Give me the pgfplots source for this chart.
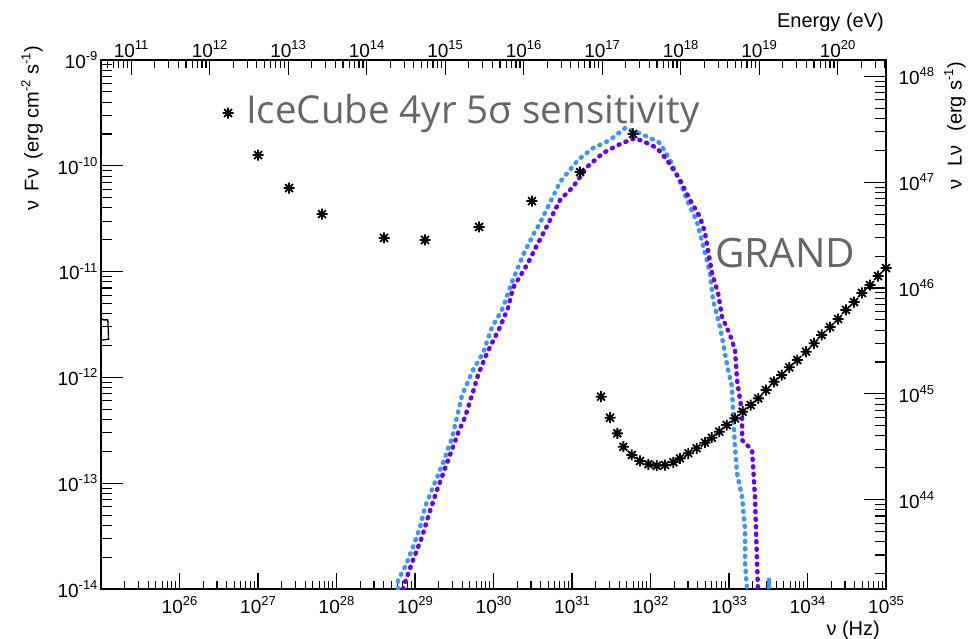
\documentclass[border=0pt]{standalone}
\usepackage{pgfplots}
\pgfplotsset{compat=1.18}
\usepackage{fontspec}
\setmainfont{Liberation Sans}
\newfontfamily\bigfont{Open Sans}
\definecolor{cblue}{RGB}{55,150,255}
\definecolor{cpurple}{RGB}{105,0,245}
\definecolor{tgray}{RGB}{102,102,102}
\newcommand\pw[1]{10\raisebox{0.42em}{\fontsize{13}{13}\selectfont#1}}
\pgfdeclareplotmark{rootstar}{%
 \pgfpathmoveto{\pgfqpoint{-\pgfplotmarksize}{0pt}}\pgfpathlineto{\pgfqpoint{\pgfplotmarksize}{0pt}}%
 \pgfpathmoveto{\pgfqpoint{0pt}{-\pgfplotmarksize}}\pgfpathlineto{\pgfqpoint{0pt}{\pgfplotmarksize}}%
 \pgfpathmoveto{\pgfqpoint{-.707\pgfplotmarksize}{-.707\pgfplotmarksize}}\pgfpathlineto{\pgfqpoint{.707\pgfplotmarksize}{.707\pgfplotmarksize}}%
 \pgfpathmoveto{\pgfqpoint{-.707\pgfplotmarksize}{.707\pgfplotmarksize}}\pgfpathlineto{\pgfqpoint{.707\pgfplotmarksize}{-.707\pgfplotmarksize}}%
 \pgfusepathqstroke}
\pgfplotsset{
 base/.style={scale only axis, width=785pt, height=529pt, at={(0pt,0pt)}, anchor=south west,
   clip mode=individual, axis line style={line width=1.6pt}, tick align=inside,
   every tick/.style={black,line width=1.1pt},
   tick label style={font=\fontsize{19}{19}\selectfont}},
 dotcurve/.style={line width=4.5pt, dash pattern=on 1pt off 6.5pt, line cap=round, line join=round, no marks},
}
\begin{document}
\begin{tikzpicture}
\path[use as bounding box] (-101pt,-50pt) rectangle (867pt,589pt);
% left y ticks
\begin{axis}[base, axis line style={draw=none}, xmin=0, xmax=1, ymode=log, ymin=1e-14, ymax=1e-9,
  xtick=\empty, ytick pos=left, major tick length=22pt, minor tick length=11pt,
  ytick={1e-14,1e-13,1e-12,1e-11,1e-10,1e-9},
  yticklabels={\pw{-14},\pw{-13},\pw{-12},\pw{-11},\pw{-10},\pw{-9}},
  minor ytick={2e-14,3e-14,4e-14,5e-14,6e-14,7e-14,8e-14,9e-14,2e-13,3e-13,4e-13,5e-13,6e-13,7e-13,8e-13,9e-13,2e-12,3e-12,4e-12,5e-12,6e-12,7e-12,8e-12,9e-12,2e-11,3e-11,4e-11,5e-11,6e-11,7e-11,8e-11,9e-11,2e-10,3e-10,4e-10,5e-10,6e-10,7e-10,8e-10,9e-10}]
\end{axis}
% top energy axis
\begin{axis}[base, axis line style={draw=none}, xmode=log, xmin=4.136e10, xmax=4.136e20, ymin=0, ymax=1,
  ytick=\empty, xtick pos=right, xticklabel pos=right, major tick length=15pt, minor tick length=8pt,
  xtick={1e11,1e12,1e13,1e14,1e15,1e16,1e17,1e18,1e19,1e20},
  xticklabels={\pw{11},\pw{12},\pw{13},\pw{14},\pw{15},\pw{16},\pw{17},\pw{18},\pw{19},\pw{20}},
  minor xtick={5e10,6e10,7e10,8e10,9e10,2e11,3e11,4e11,5e11,6e11,7e11,8e11,9e11,2e12,3e12,4e12,5e12,6e12,7e12,8e12,9e12,2e13,3e13,4e13,5e13,6e13,7e13,8e13,9e13,2e14,3e14,4e14,5e14,6e14,7e14,8e14,9e14,2e15,3e15,4e15,5e15,6e15,7e15,8e15,9e15,2e16,3e16,4e16,5e16,6e16,7e16,8e16,9e16,2e17,3e17,4e17,5e17,6e17,7e17,8e17,9e17,2e18,3e18,4e18,5e18,6e18,7e18,8e18,9e18,2e19,3e19,4e19,5e19,6e19,7e19,8e19,9e19,2e20,3e20,4e20},
  xticklabel style={yshift=-1pt}]
\end{axis}
% right luminosity axis
\begin{axis}[base, axis line style={draw=none}, xmin=0, xmax=1, ymode=log, ymin=1.432e43, ymax=1.432e48,
  xtick=\empty, ytick pos=right, yticklabel pos=right, major tick length=22pt, minor tick length=11pt,
  ytick={1e44,1e45,1e46,1e47,1e48},
  yticklabels={\pw{44},\pw{45},\pw{46},\pw{47},\pw{48}},
  minor ytick={2e43,3e43,4e43,5e43,6e43,7e43,8e43,9e43,2e44,3e44,4e44,5e44,6e44,7e44,8e44,9e44,2e45,3e45,4e45,5e45,6e45,7e45,8e45,9e45,2e46,3e46,4e46,5e46,6e46,7e46,8e46,9e46,2e47,3e47,4e47,5e47,6e47,7e47,8e47,9e47},
  yticklabel style={xshift=9pt}]
\end{axis}
% main data axis
\begin{axis}[base, xmode=log, ymode=log, xmin=1e25, xmax=1e35, ymin=1e-14, ymax=1e-9,
  ytick=\empty, xtick pos=left, xticklabel pos=left, major tick length=16pt, minor tick length=8pt,
  xtick={1e25,1e26,1e27,1e28,1e29,1e30,1e31,1e32,1e33,1e34,1e35},
  xticklabels={,\pw{26},\pw{27},\pw{28},\pw{29},\pw{30},\pw{31},\pw{32},\pw{33},\pw{34},\pw{35}},
  minor xtick={2e25,3e25,4e25,5e25,6e25,7e25,8e25,9e25,2e26,3e26,4e26,5e26,6e26,7e26,8e26,9e26,2e27,3e27,4e27,5e27,6e27,7e27,8e27,9e27,2e28,3e28,4e28,5e28,6e28,7e28,8e28,9e28,2e29,3e29,4e29,5e29,6e29,7e29,8e29,9e29,2e30,3e30,4e30,5e30,6e30,7e30,8e30,9e30,2e31,3e31,4e31,5e31,6e31,7e31,8e31,9e31,2e32,3e32,4e32,5e32,6e32,7e32,8e32,9e32,2e33,3e33,4e33,5e33,6e33,7e33,8e33,9e33,2e34,3e34,4e34,5e34,6e34,7e34,8e34,9e34},
  xticklabel style={yshift=-4pt}]
% texts
\node[anchor=west, text=tgray, font=\bigfont\fontsize{38.5}{38.5}\selectfont, inner sep=0pt] at (axis cs:7.0e26,3.155e-10) {IceCube 4yr 5σ sensitivity};
\node[anchor=west, text=tgray, font=\bigfont\fontsize{40.5}{40.5}\selectfont, inner sep=0pt] at (axis cs:6.6e32,1.50e-11) {GRAND};
% small bracket at left edge
\addplot[black, line width=1.3pt, no marks] coordinates {(1e25,3.6e-12) (1.08e25,3.5e-12) (1.22e25,3.5e-12) (1.25e25,2.3e-12) (1e25,2.25e-12)};
% blue dotted curve
\addplot[cblue, dotcurve] coordinates {
(6.07e28,1e-14) (6.07e28,1.216e-14) (7.46e28,1.614e-14) (9.44e28,2.495e-14) (1.159e29,3.855e-14)
(1.340e29,5.957e-14) (1.694e29,9.204e-14) (2.275e29,1.552e-13) (2.958e29,2.673e-13) (3.428e29,4.227e-13)
(3.972e29,6.823e-13) (5.483e29,1.175e-12) (7.345e29,1.702e-12) (9.572e29,2.992e-12) (1.282e30,4.335e-12)
(1.722e30,7.980e-12) (2.377e30,1.435e-11) (3.184e30,2.218e-11) (3.908e30,2.877e-11) (7.031e30,7.03e-11)
(1.191e31,1.135e-10) (1.854e31,1.472e-10) (3.048e31,1.754e-10) (4.732e31,2.275e-10) (6.730e31,2.084e-10)
(9.863e31,1.832e-10) (1.321e32,1.641e-10) (1.770e32,1.135e-10) (2.239e32,7.834e-11) (2.917e32,4.753e-11)
(3.908e32,2.944e-11) (4.667e32,1.782e-11) (5.728e32,9.705e-12) (6.252e32,5.395e-12) (7.674e32,2.992e-12)
(8.395e32,2.113e-12) (9.441e32,1.309e-12) (1.091e33,8.110e-13) (1.125e33,4.613e-13) (1.191e33,2.198e-13)
(1.265e33,1.247e-13) (1.466e33,7.413e-14) (1.600e33,3.614e-14) (1.600e33,1.762e-14) (1.694e33,1e-14)};
\addplot[cblue, line width=4pt, no marks] coordinates {(3.24e33,1.0e-14) (3.24e33,1.27e-14)};
% purple dotted curve
\addplot[cpurple, dotcurve] coordinates {
(7.031e28,1e-14) (7.244e28,1.091e-14) (9.44e28,1.879e-14) (1.227e29,3.097e-14) (1.466e29,4.797e-14)
(1.905e29,8.630e-14) (2.559e29,1.552e-13) (3.532e29,2.979e-13) (4.335e29,4.227e-13) (5.483e29,7.278e-13)
(6.353e29,1.054e-12) (8.260e29,1.702e-12) (1.211e30,2.992e-12) (1.531e30,4.529e-12) (1.770e30,6.998e-12)
(2.307e30,9.705e-12) (2.748e30,1.205e-11) (3.581e30,1.782e-11) (4.529e30,2.472e-11) (7.031e30,4.753e-11)
(1.030e31,6.310e-11) (1.552e31,9.750e-11) (2.483e31,1.321e-10) (3.855e31,1.574e-10) (6.353e31,1.832e-10)
(9.016e31,1.641e-10) (1.211e32,1.472e-10) (1.622e32,1.135e-10) (2.377e32,7.345e-11) (3.184e32,4.753e-11)
(4.276e32,3.281e-11) (4.943e32,2.317e-11) (6.068e32,9.705e-12) (7.244e32,6.281e-12) (8.147e32,3.724e-12)
(1.030e33,2.518e-12) (1.191e33,1.816e-12) (1.265e33,9.441e-13) (1.466e33,4.613e-13) (1.466e33,2.559e-13)
(1.963e33,2.061e-13) (2.143e33,7.413e-14) (2.275e33,1.762e-14) (2.339e33,1e-14)};
% IceCube sensitivity
\addplot[black, only marks, mark=rootstar, mark size=5.5pt, mark options={line width=1.8pt}] coordinates {
(4.15e26,3.155e-10) (1.0e27,1.265e-10) (2.483e27,6.166e-11) (6.531e27,3.499e-11) (4.027e28,2.080e-11)
(1.340e29,1.991e-11) (6.531e29,2.642e-11) (3.090e30,4.645e-11) (1.265e31,8.730e-11) (5.984e31,2.0e-10)};
% GRAND sensitivity
\addplot[black, only marks, mark=rootstar, mark size=5.5pt, mark options={line width=1.8pt}] coordinates {
(2.34e31,6.58e-13) (3.05e31,4.16e-13) (3.78e31,2.96e-13) (4.51e31,2.213e-13) (5.77e31,1.849e-13)
(7.34e31,1.622e-13) (9.38e31,1.511e-13) (1.20e32,1.463e-13) (1.532e32,1.485e-13) (1.950e32,1.578e-13)
(2.377e32,1.718e-13) (3.03e32,1.918e-13) (3.87e32,2.138e-13) (4.94e32,2.415e-13) (6.03e32,2.69e-13)
(7.52e32,3.07e-13) (9.35e32,3.548e-13) (1.191e33,4.10e-13) (1.493e33,4.74e-13) (1.888e33,5.48e-13)
(2.36e33,6.34e-13) (2.958e33,7.60e-13) (3.74e33,9.10e-13) (4.69e33,1.054e-12) (5.86e33,1.245e-12)
(7.41e33,1.459e-12) (9.57e33,1.750e-12) (1.211e34,2.099e-12) (1.514e34,2.518e-12) (1.936e34,2.99e-12)
(2.448e34,3.565e-12) (3.09e34,4.34e-12) (3.91e34,5.16e-12) (4.94e34,6.28e-12) (6.25e34,7.46e-12)
(7.91e34,9.08e-12) (1e35,1.081e-11)};
% axis titles
\node[anchor=east, font=\fontsize{20}{20}\selectfont, inner sep=0pt] at ([shift={(-6pt,-41pt)}]rel axis cs:1,0) {ν (Hz)};
\node[anchor=east, font=\fontsize{20}{20}\selectfont, inner sep=0pt] at ([shift={(-2pt,38pt)}]rel axis cs:1,1) {Energy (eV)};
\node[anchor=east, rotate=90, font=\fontsize{20}{20}\selectfont, inner sep=0pt] at ([shift={(-69pt,14pt)}]rel axis cs:0,1) {ν\hspace{4pt} Fν\hspace{4pt} (erg cm\raisebox{0.42em}{\fontsize{13}{13}\selectfont -2} s\raisebox{0.42em}{\fontsize{13}{13}\selectfont -1})};
\node[anchor=east, rotate=90, font=\fontsize{20}{20}\selectfont, inner sep=0pt] at ([shift={(69pt,-2pt)}]rel axis cs:1,1) {ν\hspace{8pt} Lν\hspace{8pt} (erg s\raisebox{0.42em}{\fontsize{13}{13}\selectfont -1})};
\end{axis}
\end{tikzpicture}
\end{document}
